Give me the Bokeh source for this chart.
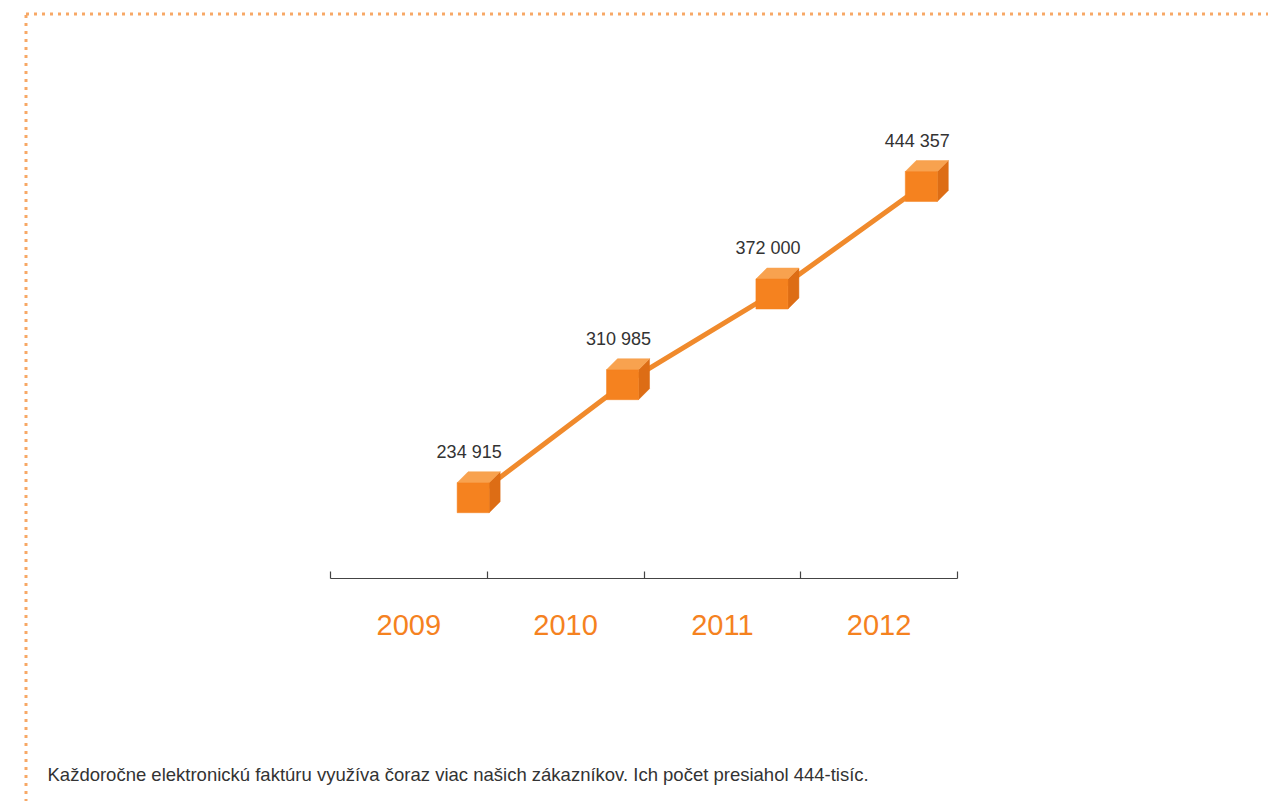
from bokeh.plotting import figure
from bokeh.models import FixedTicker, Label, BoxAnnotation, Range1d
from bokeh.embed import file_html
from bokeh.resources import INLINE
from bokeh.core.properties import value
import numpy as np

# ---- data ----
years = ["2009", "2010", "2011", "2012"]
customers = [234915, 310985, 372000, 444357]
value_labels = ["234 915", "310 985", "372 000", "444 357"]
caption = "Každoročne elektronickú faktúru využíva čoraz viac našich zákazníkov. Ich počet presiahol 444-tisíc."

# ---- layout (frame covers the whole canvas) ----
W, H = 1268, 801
AX_L, AX_R = 330, 957          # pixel extent of the year axis
PX_X = (AX_R - AX_L) / len(years)
PX_Y = 0.0014859               # pixels per customer
Y_REF, V_REF = 340.25, 340564  # a pixel row and the value drawn there
AXIS_ROW = 578
FONT = "Liberation Sans"

x0 = -AX_L / PX_X
x1 = len(years) + (W - AX_R) / PX_X
ytop = V_REF + Y_REF / PX_Y
ybot = V_REF - (H - Y_REF) / PX_Y
yaxis_at = V_REF - (AXIS_ROW - Y_REF) / PX_Y

p = figure(width=W, height=H, output_backend="svg", toolbar_location=None,
           x_range=Range1d(x0, x1), y_range=Range1d(ybot, ytop),
           y_axis_location=None, min_border=0,
           min_border_left=0, min_border_right=0,
           min_border_top=0, min_border_bottom=0)
p.grid.visible = False
p.outline_line_color = None

idx = np.arange(len(years))
centers = idx + 0.5
ax = p.xaxis[0]
ax.fixed_location = yaxis_at
ax.bounds = (0, len(years))
ax.ticker = FixedTicker(ticks=list(centers), minor_ticks=list(range(len(years) + 1)))
ax.major_label_overrides = {float(c): y for c, y in zip(centers, years)}
ax.major_tick_line_color = None
ax.major_tick_in = 0
ax.major_tick_out = 0
ax.minor_tick_in = 7
ax.minor_tick_out = 0
ax.minor_tick_line_color = "#444444"
ax.minor_tick_line_width = 1.2
ax.axis_line_color = "#444444"
ax.axis_line_width = 1.2
ax.major_label_text_font = FONT
ax.major_label_text_font_size = "29px"
ax.major_label_text_color = "#f5821f"
ax.major_label_standoff = 36

cx = idx + 0.91 - 0.047 * idx
cy = np.array(customers, dtype=float)

p.line(cx, cy, line_width=5, line_color="#f08a2c")

sx = 1 / PX_X
sy = 1 / PX_Y
hw, hh, d = 16, 15, 11

def poly(offsets):
    xs = [list(x + np.array([o[0] for o in offsets]) * sx) for x in cx]
    ys = [list(y + np.array([o[1] for o in offsets]) * sy) for y in cy]
    return xs, ys

front = [(-hw, -hh), (hw, -hh), (hw, hh), (-hw, hh)]
top = [(-hw, hh), (hw, hh), (hw + d, hh + d), (-hw + d, hh + d)]
side = [(hw, -hh), (hw + d, -hh + d), (hw + d, hh + d), (hw, hh)]

for shape, col in ((side, "#dd6d15"), (top, "#f8a24f"), (front, "#f5821f")):
    xs, ys = poly(shape)
    p.patches(xs, ys, fill_color=col, line_color=col, line_width=0.5)

p.text(x=cx, y=cy, text=value_labels, x_offset=-4, y_offset=-46,
       text_align="center", text_baseline="middle",
       text_font=value(FONT), text_font_size="18px", text_color="#333333")

p.add_layout(Label(x=47, y=774, x_units="canvas", y_units="canvas", text=caption,
                   text_baseline="middle", text_font=FONT, text_font_size="18.5px",
                   text_color="#333333"))

p.add_layout(BoxAnnotation(left=25.5, right=W + 40, top=13.5, bottom=H + 40,
                           left_units="canvas", right_units="canvas",
                           top_units="canvas", bottom_units="canvas",
                           fill_alpha=0, line_color="#f7a866", line_alpha=1,
                           line_width=3, line_dash="3 5"))

open("out.html", "w").write(file_html(p, INLINE))
